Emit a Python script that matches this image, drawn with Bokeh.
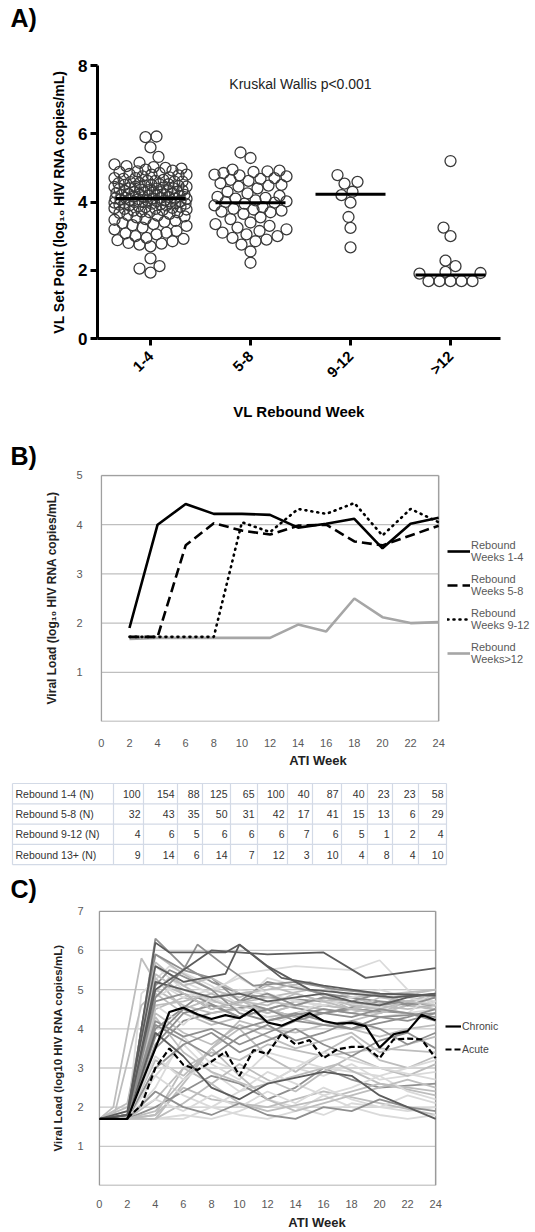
import math
from bokeh.plotting import figure
from bokeh.models import Range1d, FixedTicker, Label, Legend, LegendItem
from bokeh.layouts import column
from bokeh.embed import file_html
from bokeh.resources import INLINE
from bokeh.core.properties import value

FONT = "Liberation Sans"

# ---------------- Panel A data ----------------
a_categories = ["1-4", "5-8", "9-12", ">12"]
a_group_1_4 = [5.92, 5.90, 5.60, 5.32, 5.15, 5.10, 5.05, 5.02, 5.00, 4.98, 4.95, 4.92, 4.90, 4.88,
               4.85, 4.82, 4.80, 4.80, 4.78, 4.75, 4.72, 4.70, 4.70, 4.68, 4.65, 4.62, 4.62, 4.60,
               4.60, 4.58, 4.55, 4.55, 4.52, 4.52, 4.50, 4.50, 4.48, 4.47, 4.45, 4.45, 4.44, 4.42,
               4.40, 4.40, 4.39, 4.38, 4.36, 4.35, 4.34, 4.33, 4.32, 4.30, 4.30, 4.29, 4.28, 4.27,
               4.26, 4.25, 4.24, 4.22, 4.21, 4.20, 4.20, 4.19, 4.18, 4.17, 4.16, 4.15, 4.14, 4.12,
               4.12, 4.11, 4.10, 4.10, 4.09, 4.08, 4.07, 4.06, 4.05, 4.05, 4.03, 4.02, 4.01, 4.00,
               4.00, 3.98, 3.97, 3.96, 3.95, 3.95, 3.93, 3.92, 3.90, 3.90, 3.88, 3.86, 3.85, 3.83,
               3.82, 3.80, 3.80, 3.78, 3.76, 3.75, 3.72, 3.70, 3.70, 3.68, 3.65, 3.62, 3.60, 3.58,
               3.55, 3.50, 3.48, 3.45, 3.42, 3.38, 3.35, 3.32, 3.30, 3.25, 3.20, 3.15, 3.10, 3.08,
               3.05, 3.00, 2.95, 2.92, 2.88, 2.85, 2.80, 2.78, 2.75, 2.70, 2.35, 2.12, 2.05, 1.93]
a_group_5_8 = [5.45, 5.29, 4.95, 4.92, 4.90, 4.88, 4.85, 4.80, 4.78, 4.75, 4.70, 4.68, 4.65, 4.62,
               4.55, 4.50, 4.48, 4.45, 4.40, 4.30, 4.25, 4.18, 4.15, 4.12, 4.10, 4.05, 4.02, 4.00,
               3.98, 3.95, 3.90, 3.85, 3.80, 3.78, 3.75, 3.72, 3.70, 3.65, 3.55, 3.50, 3.40, 3.35,
               3.30, 3.25, 3.20, 3.15, 3.10, 3.05, 3.00, 2.95, 2.90, 2.85, 2.75, 2.55, 2.22]
a_group_9_12 = [4.79, 4.59, 4.54, 4.30, 4.20, 3.98, 3.56, 3.24, 2.67]
a_group_13 = [5.20, 3.25, 3.00, 2.28, 2.12, 1.95, 1.92, 1.90, 1.68, 1.68, 1.68, 1.68, 1.68]
a_medians = [4.10, 3.98, 4.23, 1.86]

# ---------------- Panel B data ----------------
b_weeks = [2, 4, 6, 8, 10, 12, 14, 16, 18, 20, 22, 24]
b_rebound_1_4 = [1.90, 4.00, 4.42, 4.22, 4.22, 4.20, 3.94, 4.02, 4.12, 3.52, 4.02, 4.14]
b_rebound_5_8 = [1.72, 1.72, 3.58, 4.03, 3.88, 3.80, 3.98, 4.00, 3.66, 3.58, 3.78, 3.98]
b_rebound_9_12 = [1.72, 1.72, 1.72, 1.72, 4.05, 3.85, 4.32, 4.22, 4.44, 3.78, 4.32, 4.05]
b_rebound_13 = [1.68, 1.70, 1.70, 1.70, 1.70, 1.70, 1.97, 1.83, 2.50, 2.12, 2.00, 2.02]
b_legend = ["Rebound\nWeeks 1-4", "Rebound\nWeeks 5-8", "Rebound\nWeeks 9-12", "Rebound\nWeeks>12"]
b_yticks = [1, 2, 3, 4, 5]
b_xmax = 24

# ---------------- Table data ----------------
t_row_labels = ["Rebound 1-4 (N)", "Rebound 5-8 (N)", "Rebound 9-12 (N)", "Rebound 13+ (N)"]
t_rebound_1_4 = [100, 154, 88, 125, 65, 100, 40, 87, 40, 23, 23, 58]
t_rebound_5_8 = [32, 43, 35, 50, 31, 42, 17, 41, 15, 13, 6, 29]
t_rebound_9_12 = [4, 6, 5, 6, 6, 6, 7, 6, 5, 1, 2, 4]
t_rebound_13 = [9, 14, 6, 14, 7, 12, 3, 10, 4, 8, 4, 10]

# ---------------- Panel C data ----------------
c_weeks = [0, 1, 2, 3, 4, 5, 6, 7, 8, 9, 10, 11, 12, 13, 14, 15, 16, 17, 18, 19, 20, 21, 22, 23, 24]
c_chronic = [1.70, 1.70, 1.70, 2.60, 3.50, 4.43, 4.54, 4.37, 4.25, 4.35, 4.27, 4.50, 4.16, 4.08,
             4.23, 4.40, 4.20, 4.13, 4.15, 4.07, 3.52, 3.86, 3.94, 4.36, 4.22]
c_acute = [None, None, 1.72, 2.05, 3.00, 3.50, 3.08, 2.95, 3.16, 3.42, 2.80, 3.46, 3.36, 3.88,
           3.60, 3.71, 3.25, 3.48, 3.54, 3.54, 3.25, 3.73, 3.75, 3.73, 3.25]
c_yticks = [1, 2, 3, 4, 5, 6, 7]
c_xmax = 24
c_patients = [
    ([0, 2, 4, 6, 8, 10, 12, 16, 20, 24], [1.7, 1.7, 6.3, 5.6, 5.2, 4.9, 4.8, 4.7, 4.6, 4.8]),
    ([0, 1, 3, 4, 6, 8, 10, 12, 14, 16, 18, 20, 22, 24], [1.7, 2.0, 5.8, 5.2, 4.9, 4.7, 4.6, 4.5, 4.7, 4.6, 4.5, 4.4, 4.6, 4.7]),
    ([0, 2, 4, 6, 8, 10, 12, 14, 16, 18, 20, 22, 24], [1.7, 1.7, 1.7, 1.8, 1.7, 1.9, 2.2, 2.0, 1.8, 2.1, 2.0, 1.9, 2.0]),
    ([0, 2, 4, 6, 8, 12, 16, 20, 24], [1.7, 1.7, 1.8, 2.5, 2.2, 2.0, 2.4, 2.1, 1.8]),
    ([0, 2, 4, 6, 8, 10, 12, 14, 16, 18, 20, 24], [1.7, 1.9, 2.8, 3.6, 2.9, 2.4, 2.6, 3.0, 2.8, 3.1, 2.7, 2.9]),
    ([0, 2, 4, 6, 8, 10, 12, 14, 16, 18, 20, 22, 24], [1.7, 1.7, 1.7, 2.6, 3.5, 4.2, 4.0, 3.9, 4.1, 4.0, 3.8, 4.0, 4.1]),
    ([0, 2, 4, 6, 8, 10, 12, 16, 20, 24], [1.7, 1.7, 2.2, 3.0, 3.4, 3.2, 3.6, 3.3, 3.5, 3.4]),
    ([0, 2, 4, 6, 8, 10, 12, 14, 16, 18, 20, 22, 24], [1.7, 1.7, 4.5, 4.8, 4.6, 4.5, 4.7, 4.6, 4.5, 4.4, 4.6, 4.5, 4.6]),
    ([0, 2, 3, 5, 8, 10, 12, 15, 18, 20, 24], [1.7, 1.7, 4.9, 5.6, 5.1, 4.6, 5.3, 5.0, 4.6, 4.3, 4.5]),
    ([0, 2, 4, 6, 8, 11, 14, 18, 22, 24], [1.7, 1.8, 3.5, 4.2, 4.4, 4.6, 4.3, 4.5, 4.4, 4.2]),
    ([0, 2, 4, 6, 8, 10, 12, 14, 16, 18, 20, 22, 24], [1.7, 1.7, 5.0, 4.6, 4.4, 4.5, 4.3, 4.4, 4.6, 4.5, 4.4, 4.7, 4.8]),
    ([0, 2, 4, 6, 8, 10, 13, 16, 19, 22, 24], [1.7, 1.7, 5.6, 5.0, 4.7, 5.0, 4.8, 4.6, 4.9, 4.8, 4.7]),
    ([0, 1, 3, 5, 7, 9, 12, 15, 18, 21, 24], [1.7, 1.7, 4.6, 5.3, 4.9, 4.6, 4.8, 5.0, 4.5, 4.7, 4.6]),
    ([0, 2, 4, 6, 8, 10, 12, 14, 16, 18, 20, 22, 24], [1.7, 1.7, 3.2, 2.8, 3.5, 4.0, 3.3, 2.9, 3.4, 3.8, 3.2, 3.0, 3.3]),
    ([0, 2, 4, 6, 8, 10, 12, 14, 16, 18, 20, 24], [1.7, 1.7, 2.0, 2.4, 2.8, 2.6, 2.2, 2.5, 3.0, 2.7, 2.5, 2.6]),
    ([0, 2, 4, 6, 8, 10, 12, 14, 16, 18, 20, 22, 24], [1.7, 1.7, 4.4, 3.9, 3.6, 4.1, 3.8, 3.5, 3.7, 3.9, 3.4, 3.6, 3.8]),
    ([0, 2, 4, 6, 9, 12, 15, 18, 21, 24], [1.7, 2.0, 5.3, 4.5, 4.9, 4.4, 4.7, 4.9, 4.8, 5.0]),
    ([0, 2, 4, 6, 8, 10, 12, 14, 16, 18, 20, 22, 24], [1.7, 1.7, 1.7, 1.7, 2.0, 1.8, 1.7, 1.9, 2.3, 2.0, 1.8, 1.7, 1.8]),
    ([0, 2, 4, 6, 8, 10, 12, 16, 20, 24], [1.7, 1.7, 1.8, 3.0, 2.6, 2.1, 1.9, 2.2, 2.6, 2.3]),
    ([0, 2, 4, 6, 8, 10, 14, 18, 20, 22, 24], [1.7, 1.7, 4.8, 5.2, 4.9, 5.4, 5.6, 5.5, 5.75, 5.0, 4.6]),
    ([0, 2, 4, 7, 10, 13, 16, 20, 24], [1.7, 1.7, 4.0, 4.8, 4.3, 4.6, 4.4, 4.7, 4.5]),
    ([0, 2, 4, 6, 8, 10, 12, 14, 16, 18, 20, 22, 24], [1.7, 1.8, 5.9, 5.4, 5.0, 4.8, 5.1, 4.9, 4.7, 4.8, 4.6, 4.9, 4.8]),
    ([0, 2, 4, 6, 8, 10, 12, 16, 20, 24], [1.7, 1.7, 2.5, 3.8, 3.1, 2.7, 3.4, 3.0, 2.8, 3.2]),
    ([0, 2, 4, 6, 8, 11, 14, 17, 20, 24], [1.7, 1.7, 4.3, 3.4, 2.9, 2.5, 2.8, 3.1, 2.6, 2.4]),
    ([0, 2, 3, 4, 6, 8, 10, 12, 16, 20, 24], [1.7, 1.7, 4.0, 5.9, 5.5, 5.3, 4.7, 5.2, 4.9, 4.7, 4.6]),
    ([0, 2, 4, 6, 8, 10, 12, 14, 16, 18, 20, 22, 24], [1.7, 1.7, 2.8, 2.3, 2.0, 2.4, 2.9, 2.6, 2.3, 2.5, 2.8, 2.4, 2.2]),
    ([0, 2, 4, 6, 8, 10, 12, 14, 16, 18, 20, 22, 24], [1.7, 1.7, 1.7, 2.1, 2.6, 3.1, 2.7, 2.4, 2.9, 3.3, 3.0, 2.8, 3.1]),
    ([0, 2, 4, 6, 8, 10, 12, 14, 16, 18, 20, 22, 24], [1.7, 1.7, 4.9, 4.4, 4.1, 4.3, 4.5, 4.3, 4.1, 4.2, 4.4, 4.6, 4.5]),
    ([0, 2, 4, 6, 8, 10, 12, 14, 16, 18, 20, 22, 24], [1.7, 1.7, 3.0, 3.6, 3.9, 3.4, 3.7, 4.0, 3.6, 3.3, 3.7, 3.9, 3.5]),
    ([0, 2, 4, 6, 8, 10, 12, 14, 16, 18, 20, 22, 24], [1.7, 1.8, 2.2, 1.9, 2.3, 2.0, 2.4, 2.1, 2.5, 2.2, 2.0, 2.3, 2.1]),
    ([0, 2, 4, 6, 8, 10, 13, 16, 19, 22, 24], [1.7, 1.7, 4.6, 4.1, 4.8, 4.5, 4.2, 4.7, 4.6, 4.4, 4.9]),
    ([0, 2, 4, 6, 8, 10, 12, 14, 18, 22, 24], [1.7, 1.7, 1.9, 2.7, 3.5, 2.8, 2.2, 1.9, 2.3, 2.7, 2.5]),
    ([0, 2, 4, 6, 8, 10, 12, 14, 16, 18, 20, 22, 24], [1.7, 1.7, 4.1, 3.7, 3.3, 3.8, 4.1, 3.7, 3.9, 4.2, 4.0, 3.6, 3.9]),
    ([0, 2, 4, 6, 8, 10, 12, 15, 18, 21, 24], [1.7, 2.1, 5.7, 5.1, 5.3, 4.9, 5.0, 5.2, 4.8, 4.9, 5.0]),
    ([0, 2, 4, 6, 8, 12, 16, 20, 24], [1.7, 1.7, 3.3, 2.7, 3.2, 2.6, 3.4, 3.0, 2.7]),
    ([0, 2, 4, 6, 8, 10, 12, 14, 16, 18, 20, 22, 24], [1.7, 1.7, 4.6, 4.7, 4.9, 4.6, 4.4, 4.6, 4.8, 4.6, 4.5, 4.7, 4.9]),
    ([0, 2, 4, 6, 8, 10, 12, 14, 16, 18, 20, 22, 24], [1.7, 1.9, 5.2, 4.8, 5.0, 5.3, 4.9, 4.7, 4.6, 4.8, 5.0, 4.8, 4.6]),
    ([0, 2, 4, 6, 8, 10, 12, 14, 16, 18, 20, 22, 24], [1.7, 1.7, 3.6, 4.4, 4.6, 4.3, 4.5, 4.2, 4.4, 4.3, 4.5, 4.4, 4.3]),
    ([0, 2, 4, 6, 8, 10, 12, 14, 16, 18, 20, 22, 24], [1.7, 1.7, 4.7, 4.9, 4.5, 4.7, 4.9, 4.6, 4.8, 4.7, 4.9, 4.6, 4.8]),
    ([0, 2, 4, 5, 8, 10, 12, 16, 20, 24], [1.7, 1.7, 5.1, 5.5, 5.0, 4.4, 4.2, 4.5, 4.3, 4.4]),
    ([0, 2, 4, 6, 8, 10, 12, 14, 16, 18, 20, 22, 24], [1.7, 1.7, 5.4, 4.9, 4.5, 4.7, 4.6, 4.9, 4.7, 4.5, 4.8, 4.7, 4.6]),
    ([0, 2, 4, 6, 8, 10, 12, 14, 16, 18, 20, 22, 24], [1.7, 1.7, 3.8, 4.5, 4.2, 4.0, 4.2, 4.4, 4.2, 4.0, 4.3, 4.2, 4.4]),
    ([0, 2, 4, 6, 8, 10, 12, 14, 16, 18, 20, 22, 24], [1.7, 1.7, 2.4, 2.0, 1.8, 2.1, 1.8, 1.7, 2.0, 1.9, 2.2, 2.0, 1.9]),
    ([0, 2, 4, 6, 8, 10, 12, 16, 18, 20, 22, 24], [1.7, 1.7, 3.9, 3.3, 2.5, 2.2, 2.6, 2.9, 2.8, 2.3, 2.0, 1.7]),
    ([0, 2, 4, 6, 8, 10, 12, 14, 18, 22, 24], [1.7, 1.8, 4.2, 3.8, 4.0, 3.6, 3.9, 4.2, 4.0, 4.3, 4.5]),
    ([0, 2, 4, 6, 8, 10, 12, 14, 16, 18, 20, 22, 24], [1.7, 1.7, 5.2, 5.0, 4.8, 4.9, 4.7, 4.8, 4.9, 4.7, 4.6, 4.8, 4.9]),
    ([0, 2, 4, 6, 7, 9, 11, 14, 17, 20, 24], [1.7, 1.7, 4.8, 5.5, 6.15, 5.6, 5.1, 5.2, 5.0, 4.9, 4.85]),
    ([0, 2, 4, 6, 9, 10, 12, 15, 18, 21, 24], [1.7, 1.9, 5.6, 5.2, 5.4, 6.15, 5.6, 5.0, 4.9, 4.8, 4.9]),
    ([0, 2, 4, 5, 9, 10, 13, 16, 20, 24], [1.7, 1.8, 6.2, 5.95, 5.95, 6.15, 5.3, 5.1, 4.9, 4.85]),
    ([0, 2, 4, 6, 8, 12, 16, 19, 24], [1.7, 1.8, 5.0, 5.5, 6.0, 5.9, 5.95, 5.3, 5.55]),
    ([0, 2, 4, 8, 12, 16, 20, 24], [1.7, 1.7, 5.3, 5.6, 5.1, 5.0, 5.2, 5.4]),
]
# style: shade per patient line (w = near white, l = light, m = mid, d = dark)
c_shades = "mlwlwlllwmlwllmllwlwmlwlmwllmwwlmlwlwmmmlmmdmdmddd"
shade_color = {"w": "#dadada", "l": "#bdbdbd", "m": "#8f8f8f", "d": "#5c5c5c"}


def swarm(vals, center, d=11.0, cap=36, ypx=34.125, xpx=100.0):
    order = sorted(range(len(vals)), key=lambda i: vals[i])
    placed = []
    xs = [0.0] * len(vals)
    cands = sorted(range(-cap, cap + 1), key=lambda o: (abs(o), o))
    for i in order:
        y = vals[i] * ypx
        near = [(px, py) for px, py in placed if abs(py - y) < d]
        chosen = None
        for o in cands:
            if all((o - px) ** 2 + (y - py) ** 2 >= d * d for px, py in near):
                chosen = o
                break
        if chosen is None:
            chosen = max(cands, key=lambda o: min((o - px) ** 2 + (y - py) ** 2 for px, py in near))
        placed.append((chosen, y))
        xs[i] = center + chosen / xpx
    return xs


def letter_strip(text, height, ymid):
    s = figure(width=535, height=height, x_range=Range1d(0, 535), y_range=Range1d(height, 0),
               x_axis_type=None, y_axis_type=None, output_backend="svg", toolbar_location=None,
               min_border=0, frame_align=False)
    s.outline_line_color = None
    s.text(x=[10], y=[ymid], text=[text], text_font=value(FONT), text_font_style="bold",
           text_font_size="25px", text_color="black", text_baseline="middle", text_align="left")
    return s


def frame_box(p, xmax, yticks, grid_color, box_color):
    ytop = yticks[-1]
    p.segment(x0=[0] * (len(yticks) - 1), x1=[xmax] * (len(yticks) - 1),
              y0=yticks[:-1], y1=yticks[:-1], line_color=grid_color, line_width=1.3)
    p.segment(x0=[0, 0, 0, xmax], x1=[xmax, xmax, 0, xmax], y0=[0, ytop, 0, 0],
              y1=[0, ytop, ytop, ytop], line_color=box_color, line_width=1.5)


def excel_axes(p):
    p.grid.visible = False
    p.outline_line_color = None
    for ax in (p.xaxis[0], p.yaxis[0]):
        ax.axis_line_color = None
        ax.major_tick_line_color = None
        ax.minor_tick_line_color = None
        ax.major_label_text_font = FONT
        ax.major_label_text_font_size = "11px"
        ax.major_label_text_color = "#595959"
        ax.axis_label_text_font = FONT
        ax.axis_label_text_font_style = "bold"
        ax.axis_label_text_color = "#222222"


# ================= Panel A =================
sA = letter_strip("A)", 35, 17)
pA = figure(width=535, height=405, x_range=Range1d(0.47, 4.5), y_range=Range1d(0, 8),
            output_backend="svg", toolbar_location=None, frame_align=False,
            min_border_left=97, min_border_right=35, min_border_top=30, min_border_bottom=102)
pA.grid.visible = False
pA.outline_line_color = None
for ax in (pA.xaxis[0], pA.yaxis[0]):
    ax.axis_line_width = 3
    ax.axis_line_color = "black"
    ax.major_tick_line_width = 3
    ax.major_tick_out = 7
    ax.major_tick_in = 0
    ax.minor_tick_line_color = None
    ax.major_label_text_font = FONT
    ax.major_label_text_font_style = "bold"
    ax.major_label_text_color = "black"
    ax.axis_label_text_font = FONT
    ax.axis_label_text_font_style = "bold"
    ax.axis_label_text_color = "black"
pA.yaxis.ticker = FixedTicker(ticks=[0, 2, 4, 6, 8])
pA.yaxis.major_label_text_font_size = "17px"
pA.yaxis.major_label_standoff = 3
pA.yaxis.axis_label = "VL Set Point (log\u2081\u2080 HIV RNA copies/mL)"
pA.yaxis.axis_label_text_font_size = "14px"
pA.yaxis.axis_label_standoff = 8
pA.xaxis.ticker = FixedTicker(ticks=[1, 2, 3, 4])
pA.xaxis.major_label_overrides = {i + 1: c for i, c in enumerate(a_categories)}
pA.xaxis.major_label_orientation = math.pi / 4
pA.xaxis.major_label_text_font_size = "15px"
pA.xaxis.major_label_standoff = 8
pA.xaxis.axis_label = "VL Rebound Week"
pA.xaxis.axis_label_text_font_size = "15px"
pA.xaxis.axis_label_standoff = 13

groups = [a_group_1_4, a_group_5_8, a_group_9_12, a_group_13]
for gi, g in enumerate(groups):
    xs = swarm(g, gi + 1)
    pA.scatter(xs, g, marker="circle", size=11, fill_color=None, line_color="#3a3a3a", line_width=1.3)
pA.segment(x0=[i + 1 - 0.35 for i in range(4)], x1=[i + 1 + 0.35 for i in range(4)],
           y0=a_medians, y1=a_medians, line_width=3, line_color="black")
pA.add_layout(Label(x=2.5, y=7.45, text="Kruskal Wallis p<0.001", text_font=FONT,
                    text_font_size="14px", text_color="#222222", text_align="center",
                    text_baseline="middle"))

# ================= Panel B =================
sB = letter_strip("B)", 30, 15)
pB = figure(width=535, height=300, x_range=Range1d(-0.06, 435 / 14.083),
            y_range=Range1d(0, 5.02), output_backend="svg", toolbar_location=None,
            frame_align=False, min_border_left=100, min_border_right=0, min_border_top=4,
            min_border_bottom=46)
excel_axes(pB)
frame_box(pB, b_xmax, b_yticks, "#bfbfbf", "#a0a0a0")
pB.yaxis.ticker = FixedTicker(ticks=b_yticks)
pB.yaxis.major_label_standoff = 12
pB.yaxis.axis_label = "Viral Load (log\u2081\u2080 HIV RNA copies/mL)"
pB.yaxis.axis_label_text_font_size = "12px"
pB.yaxis.axis_label_standoff = 14
pB.xaxis.ticker = FixedTicker(ticks=list(range(0, b_xmax + 1, 2)))
pB.xaxis.major_label_standoff = 11
pB.xaxis.axis_label = "ATI Week"
pB.xaxis.axis_label_text_font_size = "13px"
pB.xaxis.axis_label_standoff = 3
pB.xaxis.bounds = (0, b_xmax)

rB4 = pB.line(b_weeks, b_rebound_13, line_color="#a6a6a6", line_width=2.6)
rB3 = pB.line(b_weeks, b_rebound_9_12, line_color="black", line_width=2.6, line_dash="1 5",
              line_cap="round")
rB2 = pB.line(b_weeks, b_rebound_5_8, line_color="black", line_width=2.6, line_dash="10 5")
rB1 = pB.line(b_weeks, b_rebound_1_4, line_color="black", line_width=2.6)
legB = Legend(items=[LegendItem(label=b_legend[0], renderers=[rB1]),
                     LegendItem(label=b_legend[1], renderers=[rB2]),
                     LegendItem(label=b_legend[2], renderers=[rB3]),
                     LegendItem(label=b_legend[3], renderers=[rB4])],
              location=(347, 56), border_line_color=None, background_fill_alpha=0,
              label_text_font=FONT, label_text_font_size="11px", label_text_color="#595959",
              glyph_width=23, glyph_height=14, label_standoff=1, spacing=10, padding=0, margin=0)
pB.add_layout(legB, "center")

# ================= Table =================
pT = figure(width=535, height=105, x_range=Range1d(0, 535), y_range=Range1d(105, 0),
            x_axis_type=None, y_axis_type=None, output_backend="svg", toolbar_location=None,
            min_border=0, frame_align=False)
pT.outline_line_color = None
col_edges = [12, 113, 143, 177, 202, 230, 257, 287, 312, 341, 367, 392, 418, 446]
row_edges = [13, 33.3, 53.6, 73.9, 94.2]
pT.segment(x0=[col_edges[0]] * len(row_edges), x1=[col_edges[-1]] * len(row_edges),
           y0=row_edges, y1=row_edges, line_color="#d3dae6", line_width=1.2)
pT.segment(x0=col_edges, x1=col_edges, y0=[row_edges[0]] * len(col_edges),
           y1=[row_edges[-1]] * len(col_edges), line_color="#d3dae6", line_width=1.2)
row_mid = [(row_edges[i] + row_edges[i + 1]) / 2 for i in range(4)]
pT.text(x=[col_edges[0] + 3] * 4, y=row_mid, text=t_row_labels, text_font=value(FONT),
        text_font_size="10.5px", text_color="#333333", text_baseline="middle", text_align="left")
rows = [t_rebound_1_4, t_rebound_5_8, t_rebound_9_12, t_rebound_13]
tx, ty, tt = [], [], []
for ri, r in enumerate(rows):
    for ci, v in enumerate(r):
        tx.append(col_edges[ci + 2] - 3)
        ty.append(row_mid[ri])
        tt.append(str(v))
pT.text(x=tx, y=ty, text=tt, text_font=value(FONT), text_font_size="10.5px",
        text_color="#333333", text_baseline="middle", text_align="right")

# ================= Panel C =================
sC = letter_strip("C)", 30, 13)
pC = figure(width=535, height=327, x_range=Range1d(-0.06, 437 / 14.04),
            y_range=Range1d(0, 7.02), output_backend="svg", toolbar_location=None,
            frame_align=False, min_border_left=98, min_border_right=0, min_border_top=5,
            min_border_bottom=45)
excel_axes(pC)
frame_box(pC, c_xmax, c_yticks, "#c8c8c8", "#9a9a9a")
pC.yaxis.ticker = FixedTicker(ticks=c_yticks)
pC.yaxis.major_label_standoff = 9
pC.yaxis.axis_label = "Viral Load (log10 HIV RNA copies/mL)"
pC.yaxis.axis_label_text_font_size = "11.5px"
pC.yaxis.axis_label_standoff = 10
pC.xaxis.ticker = FixedTicker(ticks=list(range(0, c_xmax + 1, 2)))
pC.xaxis.major_label_standoff = 8
pC.xaxis.axis_label = "ATI Week"
pC.xaxis.axis_label_text_font_size = "13px"
pC.xaxis.axis_label_standoff = 4
pC.xaxis.bounds = (0, c_xmax)

pC.multi_line(xs=[p[0] for p in c_patients], ys=[p[1] for p in c_patients],
              line_color=[shade_color[s] for s in c_shades[:len(c_patients)]], line_width=1.8)
ac_w = [w for w, v in zip(c_weeks, c_acute) if v is not None]
ac_v = [v for v in c_acute if v is not None]
rC2 = pC.line(ac_w, ac_v, line_color="black", line_width=2.2, line_dash="6 3")
rC1 = pC.line(c_weeks, c_chronic, line_color="black", line_width=2.2)
legC = Legend(items=[LegendItem(label="Chronic", renderers=[rC1]),
                     LegendItem(label="Acute", renderers=[rC2])],
              location=(347, 130), border_line_color=None, background_fill_alpha=0,
              label_text_font=FONT, label_text_font_size="10.5px", label_text_color="#444444",
              glyph_width=16, glyph_height=12, label_height=12, label_standoff=1, spacing=11,
              padding=0, margin=0)
pC.add_layout(legC, "center")

layout = column(sA, pA, sB, pB, pT, sC, pC, spacing=0)
open("out.html", "w").write(file_html(layout, INLINE))
